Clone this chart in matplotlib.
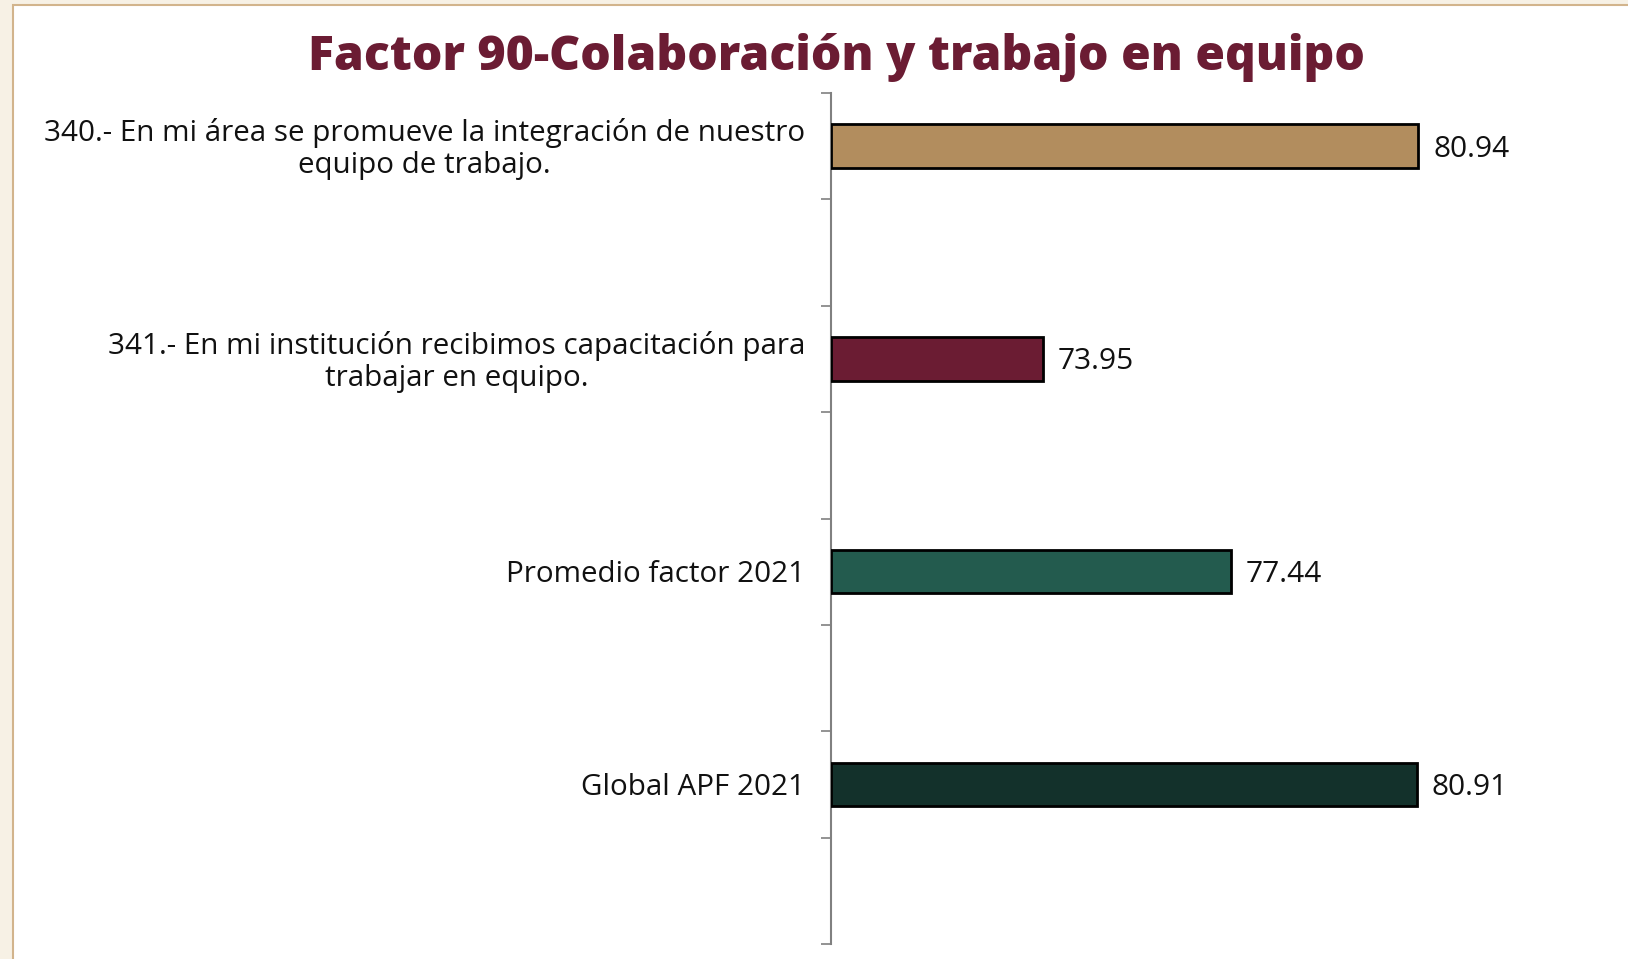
import matplotlib
matplotlib.use("Agg")
import matplotlib.pyplot as plt
from matplotlib.patches import Rectangle

title = "Factor 90-Colaboración y trabajo en equipo"
categories = [
    "340.- En mi área se promueve la integración de nuestro\nequipo de trabajo.",
    "341.- En mi institución recibimos capacitación para\ntrabajar en equipo.",
    "Promedio factor 2021",
    "Global APF 2021",
]
values = [80.94, 73.95, 77.44, 80.91]
colors = ["#b28d5e", "#6b1c33", "#235b4e", "#13312b"]

W, H = 1628, 959
fig = plt.figure(figsize=(W / 100, H / 100), dpi=100)
fig.patch.set_facecolor("#f7f1e5")
panel = Rectangle((13 / W, -0.05), 1.1, (H - 5) / H + 0.05, transform=fig.transFigure,
                  facecolor="white", edgecolor="#d2b48c", linewidth=1.5, zorder=-10)
fig.patches.append(panel)

FONT = "Open Sans"
left, right, top, bottom = 831, 1560, 93, 944
ax = fig.add_axes([left / W, (H - bottom) / H, (right - left) / W, (bottom - top) / H])
ax.set_facecolor("none")
ax.set_zorder(1)

nslots = 2 * len(values)
centers = [2 * i + 0.5 for i in range(len(values))]
ax.barh(centers, [v - 70 for v in values], left=70, height=0.41, color=colors,
        edgecolor="black", linewidth=2, zorder=3)
ax.set_ylim(nslots, 0)
ax.set_xlim(70, 70 + (right - left) / 53.7)

for s in ["top", "right", "bottom"]:
    ax.spines[s].set_visible(False)
ax.spines["left"].set_color("#808080")
ax.spines["left"].set_linewidth(1.5)
ax.set_xticks([])
ax.set_yticks(range(nslots + 1))
ax.set_yticklabels([])
ax.tick_params(axis="y", length=7, width=1.2, color="#808080")

for c, lab, v in zip(centers, categories, values):
    ax.annotate(lab, xy=(0, c), xycoords=("axes fraction", "data"), xytext=(-26, -3),
                textcoords="offset pixels", ha="right", va="center", multialignment="center",
                fontsize=21.3, family=FONT, color="#111111", linespacing=1.12)
    ax.annotate(f"{v:.2f}", xy=(v, c), xycoords="data", xytext=(15, -3),
                textcoords="offset pixels", ha="left", va="center",
                fontsize=21.5, family=FONT, color="#111111")

fig.text(836 / W, (H - 58) / H, title, ha="center", va="center", fontsize=34.6,
         fontweight="heavy", family=FONT, color="#6b1c33")

fig.savefig("out.png", dpi=100, facecolor=fig.get_facecolor())
